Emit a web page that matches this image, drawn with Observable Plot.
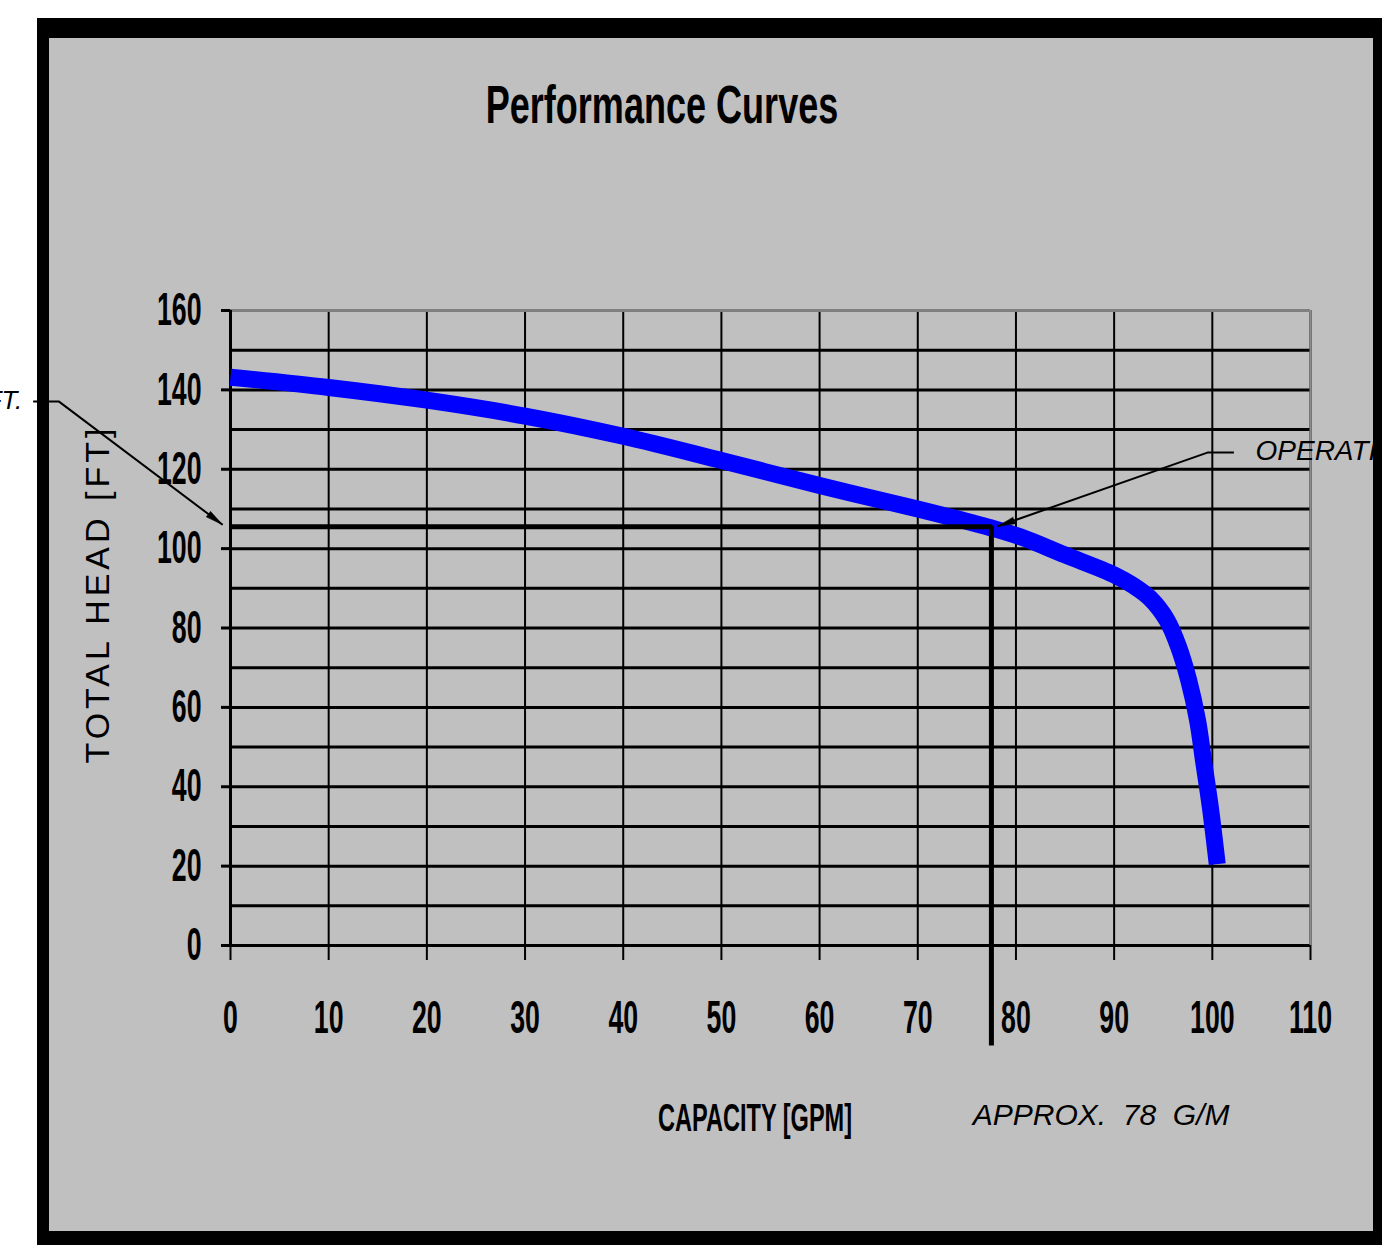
<!DOCTYPE html>
<html>
<head>
<meta charset="utf-8">
<script src="https://cdn.jsdelivr.net/npm/d3@7"></script>
<script src="https://cdn.jsdelivr.net/npm/@observablehq/plot@0.6"></script>
<style>
  html, body { margin: 0; padding: 0; background: #fff; overflow: hidden; width: 1382px; height: 1245px; }
  #panel { position: absolute; left: 37px; top: 18px; width: 1345px; height: 1227px; box-sizing: border-box;
           background: #c0c0c0; border-style: solid; border-color: #000; border-width: 20px 9px 14px 12px; }
  #chart { position: absolute; left: 0; top: 0; }
  .lbl { position: absolute; white-space: nowrap; line-height: 1; color: #000;
         font-family: "Liberation Sans", Arial, sans-serif; transform-origin: 50% 50%; }
</style>
</head>
<body>
<div id="panel"></div>
<div id="chart"></div>
<script>
// ---- text ----
const title = "Performance Curves";
const xLabel = "CAPACITY [GPM]";
const yLabel = "TOTAL HEAD [FT]";

// ---- axes ----
const xTicks = [0, 10, 20, 30, 40, 50, 60, 70, 80, 90, 100, 110];
const yTicks = [0, 20, 40, 60, 80, 100, 120, 140, 160];
const yGrid = [0, 10, 20, 30, 40, 50, 60, 70, 80, 90, 100, 110, 120, 130, 140, 150, 160];

// ---- performance curve (GPM vs FT) ----
const capacity = [0, 10, 20, 30, 40, 50, 60, 70, 77.5, 80.5, 85, 90, 92, 93.7, 95.4, 96.6, 97.6, 98.5, 99.1, 99.8, 100.5];
const head     = [143.2, 140.6, 137.4, 133.4, 128.3, 122.2, 115.9, 110, 105.2, 102.9, 98.4, 93.4, 90.6, 87.4, 81.9, 75, 66.8, 56.7, 46.6, 34.8, 20.5];

// ---- operating point ----
const opCapacity = 77.5;
const opHead = 105.5;
const opDropTo = -25.2;           // vertical marker runs below the axis

// ---- CAD annotations (data units) ----
const noteTexts   = ["APPROX.\u00a0\u00a078\u00a0\u00a0G/M", "OPERATING POINT", "APPROX. 105 FT."];
const noteX       = [75.6, 104.4, -21.2];
const noteY       = [-42.8, 124.7, 137.3];
const noteAnchor  = ["start", "start", "end"];
const noteSize    = [30, 28, 26];
const rightLeaderX = [102.2, 99.5, 78.1];
const rightLeaderY = [124.2, 124.2, 105.6];
const leftLeaderX  = [-20.1, -17.5, -0.8];
const leftLeaderY  = [137.1, 137.1, 106.0];

// ---- build ----
const W = 1382, H = 1245;
const mL = 230, mR = 72, mT = 310, mB = 300;
const kx = (W - mL - mR) / 110, ky = (H - mT - mB) / 160;

const curve = capacity.map((c, i) => ({capacity: c, head: head[i]}));
const opPath = [
  {x: 0, y: opHead}, {x: opCapacity, y: opHead}, {x: opCapacity, y: opDropTo}
];
const notes = noteTexts.map((t, i) => ({t, x: noteX[i], y: noteY[i], a: noteAnchor[i], s: noteSize[i]}));
const leaders = [
  rightLeaderX.map((x, i) => ({x, y: rightLeaderY[i]})),
  leftLeaderX.map((x, i) => ({x, y: leftLeaderY[i]}))
];
const heads = leaders.map(pts => {
  const a = pts[pts.length - 2], b = pts[pts.length - 1];
  const dx = (b.x - a.x) * kx, dy = -(b.y - a.y) * ky;
  return {x: b.x, y: b.y, rot: Math.atan2(dx, -dy) * 180 / Math.PI};
});

const plot = Plot.plot({
  width: W, height: H,
  marginLeft: mL, marginRight: mR, marginTop: mT, marginBottom: mB,
  x: {domain: [0, 110]},
  y: {domain: [0, 160]},
  style: {background: "none", overflow: "visible", fontFamily: "Liberation Sans, Arial, sans-serif", color: "#000"},
  marks: [
    Plot.gridX(xTicks, {stroke: "#000", strokeOpacity: 1, strokeWidth: 2}),
    Plot.gridY(yGrid, {stroke: "#000", strokeOpacity: 1, strokeWidth: 3}),
    Plot.ruleY([160], {stroke: "#808080", strokeWidth: 3}),
    Plot.ruleX([110], {y1: 0, y2: 160, stroke: "#8c8c8c", strokeWidth: 2}),
    Plot.ruleX([0], {y1: 0, y2: 160, stroke: "#000", strokeWidth: 3}),
    Plot.axisX(xTicks, {tickSize: 15, tickPadding: 40, fontSize: 46, fontWeight: "bold", strokeWidth: 2, label: null}),
    Plot.axisY(yTicks, {tickSize: 9, tickPadding: 20, fontSize: 46, fontWeight: "bold", strokeWidth: 3, label: null}),
    Plot.line(curve, {x: "capacity", y: "head", stroke: "#0000ff", strokeWidth: 17, curve: "catmull-rom",
                      strokeLinecap: "butt", strokeLinejoin: "round"}),
    Plot.line(opPath, {x: "x", y: "y", stroke: "#000", strokeWidth: 5, strokeLinejoin: "miter", strokeLinecap: "butt"}),
    ...leaders.map(pts => Plot.line(pts, {x: "x", y: "y", stroke: "#000", strokeWidth: 2, strokeLinecap: "butt", strokeLinejoin: "miter"})),
    Plot.vector(heads, {x: "x", y: "y", rotate: "rot", length: 18, r: 3.5, shape: "spike", anchor: "end",
                        fill: "#000", stroke: "#000", strokeWidth: 0.5}),
    ...notes.map(n => Plot.text([n], {x: "x", y: "y", text: "t", textAnchor: n.a, fontSize: n.s,
                        fontStyle: "italic", fill: "#000", lineAnchor: "middle"}))
  ]
});
document.getElementById("chart").appendChild(plot);

// condense the tick labels (narrow bold face of the original): wrap each text in a <g>
// that scales horizontally about the text's anchor point
function condense(sel, s, anchor) {
  plot.querySelectorAll(sel).forEach(t => {
    const parent = t.parentNode;
    const r = t.getBoundingClientRect();
    const sx = anchor === "end" ? r.right : (r.left + r.right) / 2;
    const pt = plot.createSVGPoint();
    pt.x = sx; pt.y = r.top;
    const local = pt.matrixTransform(parent.getScreenCTM().inverse());
    const g = document.createElementNS("http://www.w3.org/2000/svg", "g");
    g.setAttribute("transform", `translate(${local.x},0) scale(${s},1) translate(${-local.x},0)`);
    parent.insertBefore(g, t);
    g.appendChild(t);
  });
}
condense('g[aria-label="x-axis tick label"] text', 0.58, "middle");
condense('g[aria-label="y-axis tick label"] text', 0.58, "end");

// titles
function label(text, cx, cy, css, sx, rot) {
  const d = document.createElement("div");
  d.className = "lbl";
  d.textContent = text;
  Object.assign(d.style, css);
  d.style.left = cx + "px";
  d.style.top = cy + "px";
  d.style.transform = `translate(-50%,-50%) rotate(${rot || 0}deg) scaleX(${sx || 1})`;
  document.body.appendChild(d);
}
label(title, 662, 104, {fontSize: "53px", fontWeight: "bold"}, 0.68, 0);
label(xLabel, 755, 1118, {fontSize: "38px", fontWeight: "bold"}, 0.62, 0);
label(yLabel, 97, 594, {fontSize: "34px", letterSpacing: "4px"}, 1, -90);
</script>
</body>
</html>
